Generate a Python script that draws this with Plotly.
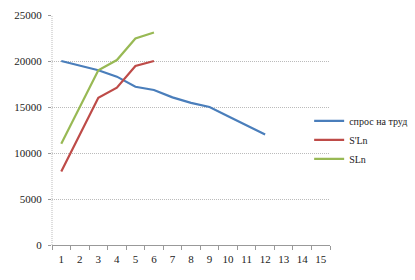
import plotly.graph_objects as go

categories = [str(i) for i in range(1, 16)]
demand = [20000, 19500, 19000, 18300, 17200, 16850, 16050, 15450, 15000, 14000, 13000, 12000]
s_prime_ln = [8000, 12000, 16000, 17100, 19450, 20000]
s_ln = [11000, 15000, 19000, 20100, 22450, 23100]

names = ["спрос на труд", "S'Ln", "SLn"]
colors = ["#4A7EBB", "#BE4B48", "#98B954"]
series = [demand, s_prime_ln, s_ln]

fig = go.Figure()
for name, color, vals in zip(names, colors, series):
    fig.add_trace(go.Scatter(
        x=categories[:len(vals)], y=vals, mode="lines", name=name,
        line=dict(color=color, width=2.2)))

serif = "Liberation Serif"
font = dict(family=serif, size=11, color="#222222")

fig.update_layout(
    width=415, height=280,
    margin=dict(l=52, r=85, t=15, b=35, autoexpand=False),
    paper_bgcolor="white", plot_bgcolor="white",
    font=font,
    showlegend=True,
    legend=dict(x=0.925, y=0.457, xanchor="left", yanchor="middle",
                font=dict(family=serif, size=10, color="#222222"),
                tracegroupgap=0, itemwidth=30, bgcolor="rgba(0,0,0,0)"),
)
fig.update_xaxes(
    type="category", categoryorder="array", categoryarray=categories,
    range=[-0.5, 14.5], tickson="boundaries", ticks="outside", ticklen=4,
    tickangle=0, tickfont=dict(family=serif, size=11, color="#222222"),
    tickcolor="#999999", showline=True, linecolor="#999999", linewidth=1,
    showgrid=False, zeroline=False, ticklabelstandoff=4,
)
fig.update_yaxes(
    range=[0, 25000], dtick=5000, tickformat="d", ticks="outside", ticklen=3,
    tickfont=dict(family=serif, size=11, color="#222222"),
    tickcolor="#999999", showgrid=True, gridcolor="#BBBBBB", griddash="1px,1px",
    gridwidth=1, zeroline=False, showline=False, ticklabelstandoff=4,
)
fig.add_shape(type="line", xref="paper", yref="paper", x0=0, x1=0, y0=0, y1=1,
              line=dict(color="#BBBBBB", width=1, dash="1px,1px"))

fig.write_html("out.html")
